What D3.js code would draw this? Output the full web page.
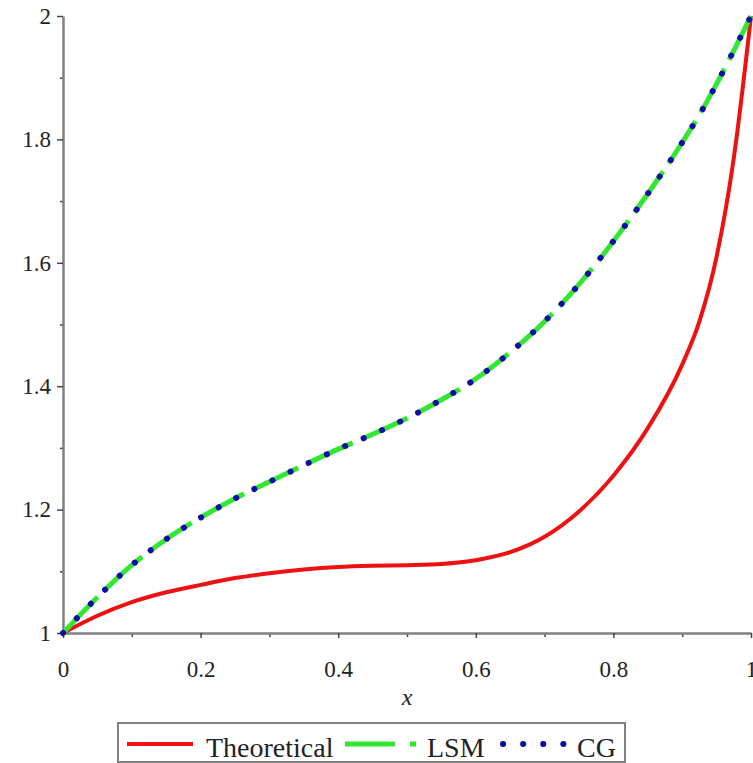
<!DOCTYPE html>
<html><head><meta charset="utf-8">
<script src="https://cdn.jsdelivr.net/npm/d3@7"></script>
<style>body{margin:0;background:#fff}svg{display:block}</style>
</head><body>
<svg id="c" width="753" height="763"></svg>
<script>
const xs = [0,0.05,0.1,0.15,0.2,0.25,0.3,0.35,0.4,0.45,0.5,0.55,0.6,0.65,0.7,0.75,0.8,0.85,0.9,0.925,0.95,0.975,1];
const theoretical = [1,1.028,1.050,1.066,1.078,1.089,1.097,1.103,1.107,1.109,1.110,1.112,1.118,1.131,1.156,1.197,1.255,1.332,1.435,1.505,1.610,1.770,2];
const lsm = [1,1.058,1.110,1.152,1.187,1.218,1.245,1.272,1.298,1.322,1.348,1.378,1.412,1.455,1.505,1.565,1.635,1.712,1.795,1.840,1.890,1.944,2];
const cg = [1,1.058,1.110,1.152,1.187,1.218,1.245,1.272,1.298,1.322,1.348,1.378,1.412,1.455,1.505,1.565,1.635,1.712,1.795,1.840,1.890,1.944,2];
const xMajor = [0,0.2,0.4,0.6,0.8,1];
const xMajorLabels = ["0","0.2","0.4","0.6","0.8","1"];
const xMinor = [0.1,0.3,0.5,0.7,0.9];
const yMajor = [1,1.2,1.4,1.6,1.8,2];
const yMajorLabels = ["1","1.2","1.4","1.6","1.8","2"];
const yMinor = [1.1,1.3,1.5,1.7,1.9];
const seriesNames = ["Theoretical","LSM","CG"];

const svg = d3.select("#c");
const x = d3.scaleLinear().domain([0,1]).range([63,751]);
const y = d3.scaleLinear().domain([1,2]).range([633,16]);
const font = "'Liberation Serif','Times New Roman',serif";
const axisColor = "#808080";

// minor ticks
svg.append("g").attr("transform","translate(0,633)")
  .call(d3.axisBottom(x).tickValues(xMinor).tickSize(4).tickFormat(""))
  .call(g=>{g.select(".domain").remove();g.selectAll("line").attr("stroke","#444").attr("stroke-width",1.5);});
svg.append("g").attr("transform","translate(63,0)")
  .call(d3.axisLeft(y).tickValues(yMinor).tickSize(3).tickFormat(""))
  .call(g=>{g.select(".domain").remove();g.selectAll("line").attr("stroke","#444").attr("stroke-width",1.5);});

// major axes
svg.append("g").attr("transform","translate(0,633)")
  .call(d3.axisBottom(x).tickValues(xMajor).tickSize(5).tickSizeOuter(0).tickPadding(23)
    .tickFormat((d,i)=>xMajorLabels[i]))
  .call(g=>{
    g.select(".domain").attr("stroke",axisColor).attr("stroke-width",2.5);
    g.selectAll("line").attr("stroke","#444").attr("stroke-width",1.5);
    g.selectAll("text").attr("font-family",font).attr("font-size",23).attr("fill","#222");
  });
svg.append("g").attr("transform","translate(63,0)")
  .call(d3.axisLeft(y).tickValues(yMajor).tickSize(6).tickSizeOuter(0).tickPadding(6)
    .tickFormat((d,i)=>yMajorLabels[i]))
  .call(g=>{
    g.select(".domain").attr("stroke",axisColor).attr("stroke-width",2.5);
    g.selectAll("line").attr("stroke","#444").attr("stroke-width",1.5);
    g.selectAll("text").attr("font-family",font).attr("font-size",23).attr("fill","#222");
  });

// x label
svg.append("text").attr("x",x(0.5)).attr("y",705).attr("text-anchor","middle")
  .attr("font-family",font).attr("font-style","italic").attr("font-size",24).attr("fill","#222").text("x");

const line = d3.line().x(d=>x(d[0])).y(d=>y(d[1])).curve(d3.curveMonotoneX);
const styles = [
  {data:theoretical,color:"#ee1111",w:4,dash:null,cap:"butt"},
  {data:lsm,color:"#33e633",w:5,dash:"50,10",cap:"butt"},
  {data:cg,color:"#0d0da8",w:6,dash:"0.1,20",cap:"round"}
];
styles.forEach(s=>{
  svg.append("path").datum(xs.map((v,i)=>[v,s.data[i]]))
    .attr("d",line).attr("fill","none").attr("stroke",s.color)
    .attr("stroke-width",s.w).attr("stroke-linecap",s.cap)
    .attr("stroke-dasharray",s.dash);
});

// legend
const lg = svg.append("g");
lg.append("rect").attr("x",118).attr("y",723).attr("width",507).attr("height",39)
  .attr("fill","#fff").attr("stroke",axisColor).attr("stroke-width",2);
const lfs = 28;
lg.append("line").attr("x1",127).attr("x2",193).attr("y1",744).attr("y2",744)
  .attr("stroke",styles[0].color).attr("stroke-width",4);
lg.append("text").attr("x",206).attr("y",757).attr("font-family",font).attr("font-size",lfs).attr("fill","#222").text(seriesNames[0]);
lg.append("line").attr("x1",345).attr("x2",416).attr("y1",744).attr("y2",744)
  .attr("stroke",styles[1].color).attr("stroke-width",5).attr("stroke-dasharray","50,15");
lg.append("text").attr("x",427).attr("y",757).attr("font-family",font).attr("font-size",lfs).attr("fill","#222").text(seriesNames[1]);
lg.append("line").attr("x1",503).attr("x2",567).attr("y1",744).attr("y2",744)
  .attr("stroke",styles[2].color).attr("stroke-width",6).attr("stroke-linecap","round").attr("stroke-dasharray","0.1,20");
lg.append("text").attr("x",577).attr("y",757).attr("font-family",font).attr("font-size",lfs).attr("fill","#222").text(seriesNames[2]);
</script>
</body></html>
